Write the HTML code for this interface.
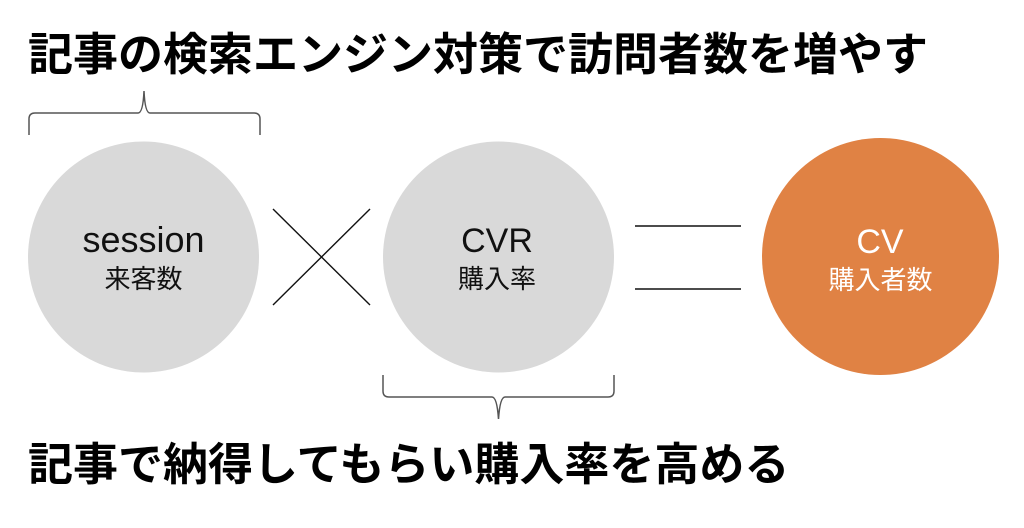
<!DOCTYPE html>
<html>
<head>
<meta charset="utf-8">
<style>
  html, body { margin: 0; padding: 0; background: #ffffff; }
  body { width: 1024px; height: 528px; overflow: hidden; }
  svg { display: block; }
  .title { font-family: "Liberation Sans", "Noto Sans CJK JP", sans-serif; font-weight: 700; font-size: 45px; fill: #000; }
  .lat { font-family: "Liberation Sans", "Noto Sans CJK JP", sans-serif; }
  .jp { font-family: "Noto Sans CJK JP", sans-serif; font-weight: 400; }
</style>
</head>
<body>
<svg width="1024" height="528" viewBox="0 0 1024 528" xmlns="http://www.w3.org/2000/svg">
  <rect x="0" y="0" width="1024" height="528" fill="#ffffff"/>

  <!-- Top title -->
  <text class="title" x="28" y="70">記事の検索エンジン対策で訪問者数を増やす</text>

  <!-- Top brace -->
  <path d="M29,135 L29,119 Q29,113 35,113 L138,113 Q143,113 144,91 Q145,113 150,113 L254,113 Q260,113 260,119 L260,135"
        fill="none" stroke="#555" stroke-width="1.5"/>

  <!-- Circle 1 -->
  <circle cx="143.5" cy="257" r="115.5" fill="#d9d9d9"/>
  <text class="lat" x="143.5" y="252" font-size="36" text-anchor="middle" fill="#111">session</text>
  <text class="jp" x="143.5" y="288" font-size="26" text-anchor="middle" fill="#111">来客数</text>

  <!-- Multiply X -->
  <line x1="273" y1="209" x2="370" y2="305" stroke="#111" stroke-width="1.4"/>
  <line x1="273" y1="305" x2="370" y2="209" stroke="#111" stroke-width="1.4"/>

  <!-- Circle 2 -->
  <circle cx="498.5" cy="257" r="115.5" fill="#d9d9d9"/>
  <text class="lat" x="497" y="252" font-size="34" text-anchor="middle" fill="#111">CVR</text>
  <text class="jp" x="497" y="288" font-size="26" text-anchor="middle" fill="#111">購入率</text>

  <!-- Bottom brace -->
  <path d="M383,375 L383,391 Q383,397 389,397 L492,397 Q497,397 498.5,419 Q500,397 505,397 L608,397 Q614,397 614,391 L614,375"
        fill="none" stroke="#555" stroke-width="1.5"/>

  <!-- Equals -->
  <line x1="635" y1="226" x2="741" y2="226" stroke="#111" stroke-width="1.6"/>
  <line x1="635" y1="289" x2="741" y2="289" stroke="#111" stroke-width="1.6"/>

  <!-- Circle 3 (orange) -->
  <circle cx="880.5" cy="256.5" r="118.5" fill="#e08244"/>
  <text class="lat" x="880" y="253" font-size="34" text-anchor="middle" fill="#ffffff">CV</text>
  <text class="jp" x="880.5" y="289" font-size="26" text-anchor="middle" fill="#ffffff">購入者数</text>

  <!-- Bottom title -->
  <text class="title" x="28" y="480">記事で納得してもらい購入率を高める</text>
</svg>
</body>
</html>
